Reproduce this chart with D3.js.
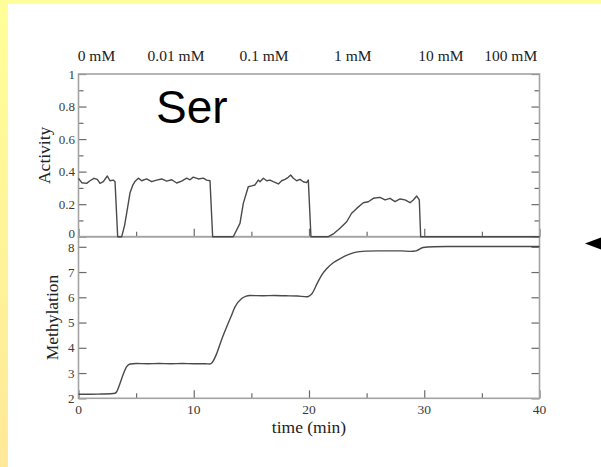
<!DOCTYPE html>
<html>
<head>
<meta charset="utf-8">
<script src="https://cdn.jsdelivr.net/npm/d3@7"></script>
<style>
  html, body { margin: 0; padding: 0; }
  body { width: 601px; height: 467px; overflow: hidden; }
  svg { display: block; }
</style>
</head>
<body>
<script>
// Receptor activity and methylation level over time, Ser steps
const concLabels = ["0 mM", "0.01 mM", "0.1 mM", "1 mM", "10 mM", "100 mM"];

const activityTime = [0, 0.28, 0.71, 1.0, 1.34, 1.63, 1.87, 2.15, 2.5, 2.73, 3.02, 3.17, 3.4, 3.75,
  4.0, 4.18, 4.47, 4.7, 4.9, 5.19, 5.48, 5.91, 6.35, 6.78, 7.22, 7.65, 8.09, 8.52, 8.95, 9.39, 9.67,
  9.96, 10.4, 10.83, 11.12, 11.41, 11.64, 13.43, 14.01, 14.3, 14.73, 15.03, 15.31, 15.6, 15.75,
  16.04, 16.33, 16.62, 16.9, 17.34, 17.63, 17.92, 18.2, 18.41, 18.64, 18.93, 19.22, 19.5, 19.79,
  19.94, 20.17, 21.68, 22.11, 22.69, 23.27, 23.7, 24.14, 24.71, 25.15, 25.58, 26.16, 26.6, 27.03,
  27.46, 27.9, 28.33, 28.77, 29.05, 29.35, 29.57, 29.69, 35, 40];
const activityValue = [0.359, 0.332, 0.328, 0.344, 0.359, 0.352, 0.328, 0.338, 0.373, 0.344, 0.348, 0.338, 0, 0,
  0.07, 0.145, 0.27, 0.315, 0.34, 0.36, 0.344, 0.355, 0.338, 0.348, 0.355, 0.342, 0.35, 0.33, 0.342, 0.36, 0.35,
  0.366, 0.355, 0.36, 0.348, 0.344, 0, 0, 0.082, 0.205, 0.307, 0.312, 0.318, 0.348, 0.338,
  0.359, 0.344, 0.348, 0.338, 0.324, 0.344, 0.352, 0.365, 0.379, 0.359, 0.344, 0.352, 0.338, 0.332,
  0.348, 0, 0, 0.017, 0.052, 0.092, 0.144, 0.174, 0.209, 0.215, 0.236, 0.242, 0.226, 0.236,
  0.216, 0.232, 0.226, 0.209, 0.226, 0.25, 0.226, 0, 0, 0];

const methTime = [0, 1, 2, 2.8, 3.17, 3.31, 3.6, 3.89, 4.18, 4.47, 5, 6, 7, 8, 9, 10, 11, 11.4, 11.6,
  12.0, 12.4, 12.86, 13.2, 13.58, 14.16, 14.5, 14.88, 16, 17, 18, 19, 19.8, 20.0, 20.25, 20.7, 21.1,
  21.55, 22.1, 22.7, 23.3, 23.84, 24.4, 25, 26, 27, 28, 28.8, 29.3, 29.9, 30.8, 32, 35, 40];
const methValue = [2.16, 2.16, 2.17, 2.18, 2.2, 2.26, 2.59, 2.96, 3.25, 3.36, 3.38, 3.37, 3.38, 3.37, 3.38, 3.37, 3.37, 3.36, 3.42,
  3.78, 4.3, 4.83, 5.2, 5.62, 5.95, 6.04, 6.07, 6.06, 6.07, 6.06, 6.05, 6.02, 6.05, 6.14, 6.54, 6.88,
  7.14, 7.37, 7.53, 7.67, 7.76, 7.81, 7.83, 7.84, 7.84, 7.84, 7.82, 7.84, 7.97, 8.0, 8.01, 8.01, 8.01];

const xMajorTicks = [0, 10, 20, 30, 40];
const xMinorTicks = [5, 15, 25, 35];
const actMajorTicks = [0, 0.2, 0.4, 0.6, 0.8, 1];
const actMinorTicks = [0.1, 0.3, 0.5, 0.7, 0.9];
const methTicks = [2, 3, 4, 5, 6, 7, 8];

// Where each concentration label sits along the time axis (minutes)
const concAnchorTime = [1.56, 8.46, 16.1, 23.8, 31.45, 37.5];

const W = 601, H = 467;
const svg = d3.select("body").append("svg").attr("width", W).attr("height", H);

const defs = svg.append("defs");
const grad = defs.append("linearGradient").attr("id", "bg").attr("x1", 0).attr("y1", 0).attr("x2", 0).attr("y2", 1);
grad.append("stop").attr("offset", "0%").attr("stop-color", "#ffff99");
grad.append("stop").attr("offset", "100%").attr("stop-color", "#ffe998");

svg.append("rect").attr("width", W).attr("height", H).attr("fill", "url(#bg)");
svg.append("rect").attr("x", 8).attr("y", 4).attr("width", W - 8).attr("height", H - 4).attr("fill", "#fff");

const left = 78.5, right = 539.5;
const topA = 74, midY = 236.7, botM = 398.3;

const x = d3.scaleLinear().domain([0, 40]).range([left, right]);
const yA = d3.scaleLinear().domain([0, 1]).range([midY, topA]);
const yM = d3.scaleLinear().domain([2, 8.4]).range([botM, midY]);

const frameColor = "#a3a3a3";
const tickColor = "#6a6a6a";
const lineColor = "#4a4a4a";
const serif = "'Liberation Serif', 'Times New Roman', serif";

// inward ticks: axis generators with negative tick size point into the plot
function drawAxis(g, axis) {
  g.call(axis);
  g.select(".domain").remove();
  g.selectAll(".tick line").attr("stroke", tickColor).attr("stroke-width", 1.2);
  g.selectAll(".tick text").remove();
}

const MAJ = 8, MIN = 5;

// Activity panel ticks
drawAxis(svg.append("g").attr("transform", `translate(${left},0)`),
  d3.axisLeft(yA).tickValues(actMajorTicks).tickSize(-MAJ));
drawAxis(svg.append("g").attr("transform", `translate(${left},0)`),
  d3.axisLeft(yA).tickValues(actMinorTicks).tickSize(-MIN));
drawAxis(svg.append("g").attr("transform", `translate(${right},0)`),
  d3.axisRight(yA).tickValues(actMajorTicks).tickSize(-MAJ));
drawAxis(svg.append("g").attr("transform", `translate(${right},0)`),
  d3.axisRight(yA).tickValues(actMinorTicks).tickSize(-MIN));
drawAxis(svg.append("g").attr("transform", `translate(0,${midY})`),
  d3.axisBottom(x).tickValues(xMajorTicks).tickSize(-MAJ));
drawAxis(svg.append("g").attr("transform", `translate(0,${midY})`),
  d3.axisBottom(x).tickValues(xMinorTicks).tickSize(-MIN));

// Methylation panel ticks
drawAxis(svg.append("g").attr("transform", `translate(${left},0)`),
  d3.axisLeft(yM).tickValues(methTicks).tickSize(-MAJ));
drawAxis(svg.append("g").attr("transform", `translate(${right},0)`),
  d3.axisRight(yM).tickValues(methTicks).tickSize(-MAJ));
drawAxis(svg.append("g").attr("transform", `translate(0,${botM})`),
  d3.axisBottom(x).tickValues(xMajorTicks).tickSize(-MAJ));
drawAxis(svg.append("g").attr("transform", `translate(0,${botM})`),
  d3.axisBottom(x).tickValues(xMinorTicks).tickSize(-MIN));

// Frames
svg.append("rect").attr("x", left).attr("y", topA).attr("width", right - left).attr("height", midY - topA)
  .attr("fill", "none").attr("stroke", frameColor).attr("stroke-width", 1.6);
svg.append("rect").attr("x", left).attr("y", midY).attr("width", right - left).attr("height", botM - midY)
  .attr("fill", "none").attr("stroke", frameColor).attr("stroke-width", 1.6);

// Data lines
const actLine = d3.line().x((d, i) => x(activityTime[i])).y(d => yA(d));
svg.append("path").datum(activityValue).attr("d", actLine)
  .attr("fill", "none").attr("stroke", lineColor).attr("stroke-width", 1.4).attr("stroke-linejoin", "round");

const methLine = d3.line().x((d, i) => x(methTime[i])).y(d => yM(d)).curve(d3.curveMonotoneX);
svg.append("path").datum(methValue).attr("d", methLine)
  .attr("fill", "none").attr("stroke", lineColor).attr("stroke-width", 1.4);

// Tick labels
const labColor = "#3a3a3a";
svg.append("g").selectAll("text").data(actMajorTicks).join("text")
  .attr("x", left - 3.5).attr("y", d => yA(d) - (d === 0 ? 3 : 0)).attr("dy", "0.35em")
  .attr("text-anchor", "end").attr("font-family", serif).attr("font-size", 13).attr("fill", labColor)
  .text(d => d3.format("")(d));
svg.append("g").selectAll("text").data(methTicks).join("text")
  .attr("x", left - 4).attr("y", d => yM(d) + (d === 8 ? 1 : 0)).attr("dy", "0.35em")
  .attr("text-anchor", "end").attr("font-family", serif).attr("font-size", 13).attr("fill", labColor)
  .text(d => d);
svg.append("g").selectAll("text").data(xMajorTicks).join("text")
  .attr("x", d => x(d)).attr("y", botM + 15.5)
  .attr("text-anchor", "middle").attr("font-family", serif).attr("font-size", 13.5).attr("fill", labColor)
  .text(d => d);

// Concentration labels above the activity panel
svg.append("g").selectAll("text").data(concLabels).join("text")
  .attr("x", (d, i) => x(concAnchorTime[i])).attr("y", 60.5)
  .attr("text-anchor", "middle").attr("font-family", serif).attr("font-size", 15.5).attr("fill", "#222")
  .text(d => d);

// Axis titles
svg.append("text").attr("transform", `translate(49.5,${(topA + midY) / 2}) rotate(-90)`)
  .attr("text-anchor", "middle").attr("font-family", serif).attr("font-size", 17.5).attr("fill", "#222")
  .text("Activity");
svg.append("text").attr("transform", `translate(58,${(midY + botM) / 2}) rotate(-90)`)
  .attr("text-anchor", "middle").attr("font-family", serif).attr("font-size", 17.5).attr("fill", "#222")
  .text("Methylation");
svg.append("text").attr("x", x(20)).attr("y", 432.5)
  .attr("text-anchor", "middle").attr("font-family", serif).attr("font-size", 17.5).attr("fill", "#222")
  .text("time (min)");

// Ligand name
svg.append("text").attr("x", 156).attr("y", 123.3)
  .attr("font-family", "'Liberation Sans', Arial, sans-serif").attr("font-size", 46).attr("fill", "#000")
  .text("Ser");

// Pointer marker at the right edge
svg.append("path")
  .attr("d", d3.line()([[585, 243.5], [602, 237], [602, 250]]) + "Z")
  .attr("fill", "#000");
</script>
</body>
</html>
